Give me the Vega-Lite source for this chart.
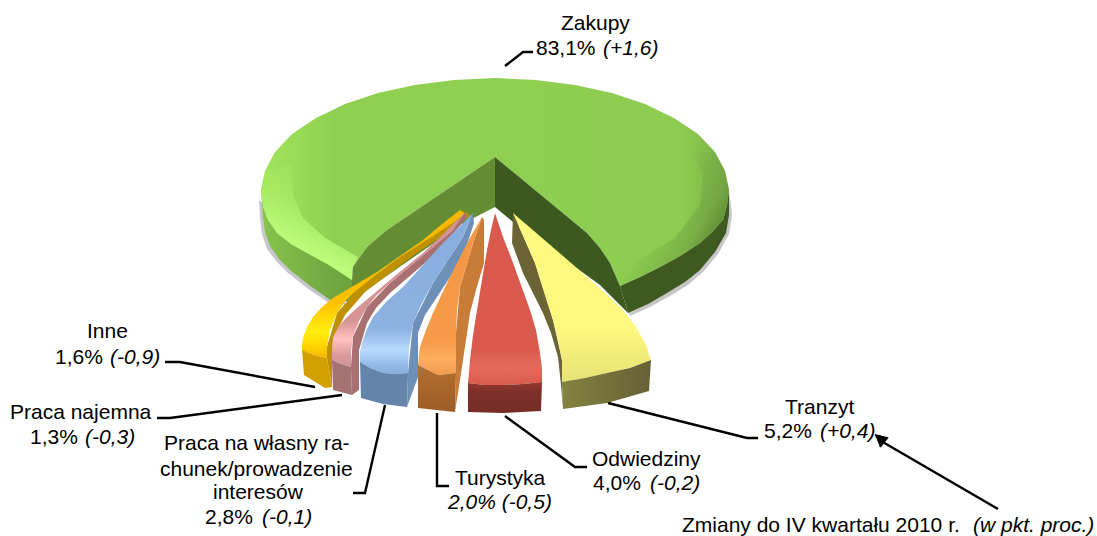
{
"$schema":"https://vega.github.io/schema/vega-lite/v6.json",
"width":1097,"height":536,"padding":0,"autosize":"none",
"background":"white",
"view":{"stroke":null},
"datasets":{
"outline":[
{"part":"shadowL","i":1,"x":259,"y":200},{"part":"shadowL","i":2,"x":260,"y":218},{"part":"shadowL","i":3,"x":262,"y":234},{"part":"shadowL","i":4,"x":267,"y":249},{"part":"shadowL","i":5,"x":277,"y":262},{"part":"shadowL","i":6,"x":288,"y":273},{"part":"shadowL","i":7,"x":307,"y":288},{"part":"shadowL","i":8,"x":329,"y":303},{"part":"shadowL","i":9,"x":345,"y":304},{"part":"shadowL","i":10,"x":345,"y":270},
{"part":"shadowR","i":1,"x":620,"y":286},{"part":"shadowR","i":2,"x":729,"y":190},{"part":"shadowR","i":3,"x":732,"y":215},{"part":"shadowR","i":4,"x":729,"y":234},{"part":"shadowR","i":5,"x":718,"y":254},{"part":"shadowR","i":6,"x":703,"y":272},{"part":"shadowR","i":7,"x":688,"y":285},{"part":"shadowR","i":8,"x":670,"y":296},{"part":"shadowR","i":9,"x":650,"y":307},{"part":"shadowR","i":10,"x":630,"y":316},
{"part":"wallL","i":1,"x":261,"y":190},{"part":"wallL","i":2,"x":263,"y":217},{"part":"wallL","i":3,"x":265,"y":232},{"part":"wallL","i":4,"x":270,"y":246},{"part":"wallL","i":5,"x":279,"y":259},{"part":"wallL","i":6,"x":290,"y":270},{"part":"wallL","i":7,"x":309,"y":285},{"part":"wallL","i":8,"x":330,"y":300},{"part":"wallL","i":9,"x":352,"y":302},{"part":"wallL","i":10,"x":352,"y":280},
{"part":"wallR","i":1,"x":620,"y":286},{"part":"wallR","i":2,"x":640,"y":277},{"part":"wallR","i":3,"x":660,"y":267},{"part":"wallR","i":4,"x":680,"y":256},{"part":"wallR","i":5,"x":700,"y":243},{"part":"wallR","i":6,"x":712,"y":232},{"part":"wallR","i":7,"x":723,"y":220},{"part":"wallR","i":8,"x":727,"y":205},{"part":"wallR","i":9,"x":729,"y":190},{"part":"wallR","i":10,"x":729,"y":215},{"part":"wallR","i":11,"x":726,"y":233},{"part":"wallR","i":12,"x":715,"y":252},{"part":"wallR","i":13,"x":700,"y":270},{"part":"wallR","i":14,"x":685,"y":282},{"part":"wallR","i":15,"x":667,"y":293},{"part":"wallR","i":16,"x":648,"y":304},{"part":"wallR","i":17,"x":628,"y":313},
{"part":"top","i":1,"x":495,"y":157},{"part":"top","i":2,"x":587,"y":233},{"part":"top","i":3,"x":600,"y":248},{"part":"top","i":4,"x":610,"y":263},{"part":"top","i":5,"x":620,"y":286},{"part":"top","i":6,"x":640,"y":277},{"part":"top","i":7,"x":660,"y":267},{"part":"top","i":8,"x":680,"y":256},{"part":"top","i":9,"x":700,"y":243},{"part":"top","i":10,"x":712,"y":232},{"part":"top","i":11,"x":723,"y":220},{"part":"top","i":12,"x":727,"y":205},{"part":"top","i":13,"x":729,"y":190},{"part":"top","i":14,"x":725,"y":171},{"part":"top","i":15,"x":715,"y":152},{"part":"top","i":16,"x":698,"y":134},{"part":"top","i":17,"x":674,"y":118},{"part":"top","i":18,"x":645,"y":104},{"part":"top","i":19,"x":612,"y":93},{"part":"top","i":20,"x":575,"y":85},{"part":"top","i":21,"x":536,"y":80},{"part":"top","i":22,"x":495,"y":78},{"part":"top","i":23,"x":454,"y":80},{"part":"top","i":24,"x":415,"y":85},{"part":"top","i":25,"x":378,"y":93},{"part":"top","i":26,"x":345,"y":104},{"part":"top","i":27,"x":316,"y":118},{"part":"top","i":28,"x":292,"y":134},{"part":"top","i":29,"x":275,"y":152},{"part":"top","i":30,"x":265,"y":171},{"part":"top","i":31,"x":261,"y":190},{"part":"top","i":32,"x":263,"y":207},{"part":"top","i":33,"x":268,"y":220},{"part":"top","i":34,"x":277,"y":233},{"part":"top","i":35,"x":291,"y":244},{"part":"top","i":36,"x":307,"y":253},{"part":"top","i":37,"x":329,"y":265},{"part":"top","i":38,"x":352,"y":280},{"part":"top","i":39,"x":353,"y":267},{"part":"top","i":40,"x":367,"y":247},{"part":"top","i":41,"x":387,"y":230},
{"part":"glow","i":1,"x":265,"y":171},{"part":"glow","i":2,"x":261,"y":190},{"part":"glow","i":3,"x":263,"y":207},{"part":"glow","i":4,"x":268,"y":220},{"part":"glow","i":5,"x":277,"y":233},{"part":"glow","i":6,"x":291,"y":244},{"part":"glow","i":7,"x":307,"y":253},{"part":"glow","i":8,"x":329,"y":265},{"part":"glow","i":9,"x":352,"y":280},{"part":"glow","i":10,"x":353,"y":267},{"part":"glow","i":11,"x":358,"y":257},{"part":"glow","i":12,"x":325,"y":238},{"part":"glow","i":13,"x":303,"y":218},{"part":"glow","i":14,"x":293,"y":195},{"part":"glow","i":15,"x":292,"y":165},
{"part":"shade","i":1,"x":729,"y":190},{"part":"shade","i":2,"x":727,"y":205},{"part":"shade","i":3,"x":723,"y":220},{"part":"shade","i":4,"x":712,"y":232},{"part":"shade","i":5,"x":700,"y":243},{"part":"shade","i":6,"x":680,"y":256},{"part":"shade","i":7,"x":660,"y":267},{"part":"shade","i":8,"x":640,"y":277},{"part":"shade","i":9,"x":620,"y":286},{"part":"shade","i":10,"x":635,"y":262},{"part":"shade","i":11,"x":675,"y":238},{"part":"shade","i":12,"x":700,"y":205},{"part":"shade","i":13,"x":703,"y":175},{"part":"shade","i":14,"x":690,"y":150},{"part":"shade","i":15,"x":715,"y":152},{"part":"shade","i":16,"x":725,"y":171},
{"part":"wedgeL","i":1,"x":495,"y":157},{"part":"wedgeL","i":2,"x":495,"y":207},{"part":"wedgeL","i":3,"x":460,"y":225},{"part":"wedgeL","i":4,"x":352,"y":300},{"part":"wedgeL","i":5,"x":352,"y":280},{"part":"wedgeL","i":6,"x":353,"y":267},{"part":"wedgeL","i":7,"x":367,"y":247},{"part":"wedgeL","i":8,"x":387,"y":230},
{"part":"wedgeR","i":1,"x":495,"y":157},{"part":"wedgeR","i":2,"x":587,"y":233},{"part":"wedgeR","i":3,"x":600,"y":248},{"part":"wedgeR","i":4,"x":610,"y":263},{"part":"wedgeR","i":5,"x":620,"y":286},{"part":"wedgeR","i":6,"x":628,"y":313},{"part":"wedgeR","i":7,"x":600,"y":285},{"part":"wedgeR","i":8,"x":513,"y":222},{"part":"wedgeR","i":9,"x":495,"y":207},
{"part":"goldWall","i":1,"x":466,"y":212},{"part":"goldWall","i":2,"x":470,"y":216},{"part":"goldWall","i":3,"x":410,"y":258},{"part":"goldWall","i":4,"x":365,"y":292},{"part":"goldWall","i":5,"x":345,"y":315},{"part":"goldWall","i":6,"x":335,"y":335},{"part":"goldWall","i":7,"x":332,"y":350},{"part":"goldWall","i":8,"x":332,"y":387},{"part":"goldWall","i":9,"x":327,"y":358},{"part":"goldWall","i":10,"x":327,"y":347},{"part":"goldWall","i":11,"x":337,"y":313},{"part":"goldWall","i":12,"x":357,"y":290},{"part":"goldWall","i":13,"x":400,"y":257},
{"part":"goldTop","i":1,"x":460,"y":210},{"part":"goldTop","i":2,"x":466,"y":214},{"part":"goldTop","i":3,"x":433,"y":236},{"part":"goldTop","i":4,"x":400,"y":257},{"part":"goldTop","i":5,"x":376,"y":275},{"part":"goldTop","i":6,"x":357,"y":290},{"part":"goldTop","i":7,"x":345,"y":301},{"part":"goldTop","i":8,"x":337,"y":313},{"part":"goldTop","i":9,"x":330,"y":330},{"part":"goldTop","i":10,"x":327,"y":347},{"part":"goldTop","i":11,"x":327,"y":358},{"part":"goldTop","i":12,"x":314,"y":355},{"part":"goldTop","i":13,"x":302,"y":350},{"part":"goldTop","i":14,"x":302,"y":344},{"part":"goldTop","i":15,"x":303,"y":338},{"part":"goldTop","i":16,"x":307,"y":327},{"part":"goldTop","i":17,"x":313,"y":317},{"part":"goldTop","i":18,"x":322,"y":307},{"part":"goldTop","i":19,"x":333,"y":298},{"part":"goldTop","i":20,"x":355,"y":285},{"part":"goldTop","i":21,"x":377,"y":272},{"part":"goldTop","i":22,"x":400,"y":256},{"part":"goldTop","i":23,"x":423,"y":240},{"part":"goldTop","i":24,"x":442,"y":224},
{"part":"goldFront","i":1,"x":302,"y":350},{"part":"goldFront","i":2,"x":314,"y":355},{"part":"goldFront","i":3,"x":327,"y":358},{"part":"goldFront","i":4,"x":332,"y":387},{"part":"goldFront","i":5,"x":325,"y":388},{"part":"goldFront","i":6,"x":304,"y":375},
{"part":"pinkWall","i":1,"x":465,"y":212},{"part":"pinkWall","i":2,"x":467,"y":217},{"part":"pinkWall","i":3,"x":440,"y":250},{"part":"pinkWall","i":4,"x":390,"y":293},{"part":"pinkWall","i":5,"x":376,"y":308},{"part":"pinkWall","i":6,"x":367,"y":323},{"part":"pinkWall","i":7,"x":359,"y":350},{"part":"pinkWall","i":8,"x":359,"y":390},{"part":"pinkWall","i":9,"x":352,"y":395},{"part":"pinkWall","i":10,"x":351,"y":367},{"part":"pinkWall","i":11,"x":353,"y":337},{"part":"pinkWall","i":12,"x":367,"y":307},{"part":"pinkWall","i":13,"x":390,"y":283},{"part":"pinkWall","i":14,"x":453,"y":230},
{"part":"pinkTop","i":1,"x":465,"y":212},{"part":"pinkTop","i":2,"x":453,"y":230},{"part":"pinkTop","i":3,"x":420,"y":258},{"part":"pinkTop","i":4,"x":390,"y":283},{"part":"pinkTop","i":5,"x":376,"y":296},{"part":"pinkTop","i":6,"x":367,"y":307},{"part":"pinkTop","i":7,"x":359,"y":321},{"part":"pinkTop","i":8,"x":353,"y":337},{"part":"pinkTop","i":9,"x":351,"y":352},{"part":"pinkTop","i":10,"x":351,"y":367},{"part":"pinkTop","i":11,"x":341,"y":364},{"part":"pinkTop","i":12,"x":332,"y":360},{"part":"pinkTop","i":13,"x":332,"y":348},{"part":"pinkTop","i":14,"x":333,"y":337},{"part":"pinkTop","i":15,"x":339,"y":326},{"part":"pinkTop","i":16,"x":347,"y":317},{"part":"pinkTop","i":17,"x":358,"y":307},{"part":"pinkTop","i":18,"x":370,"y":297},{"part":"pinkTop","i":19,"x":396,"y":275},{"part":"pinkTop","i":20,"x":423,"y":253},{"part":"pinkTop","i":21,"x":445,"y":232},
{"part":"pinkFront","i":1,"x":332,"y":360},{"part":"pinkFront","i":2,"x":341,"y":364},{"part":"pinkFront","i":3,"x":351,"y":367},{"part":"pinkFront","i":4,"x":352,"y":395},{"part":"pinkFront","i":5,"x":333,"y":390},
{"part":"blueWall","i":1,"x":473,"y":213},{"part":"blueWall","i":2,"x":474,"y":223},{"part":"blueWall","i":3,"x":463,"y":257},{"part":"blueWall","i":4,"x":437,"y":297},{"part":"blueWall","i":5,"x":425,"y":315},{"part":"blueWall","i":6,"x":418,"y":333},{"part":"blueWall","i":7,"x":418,"y":377},{"part":"blueWall","i":8,"x":407,"y":407},{"part":"blueWall","i":9,"x":408,"y":373},{"part":"blueWall","i":10,"x":413,"y":323},{"part":"blueWall","i":11,"x":433,"y":283},{"part":"blueWall","i":12,"x":463,"y":237},
{"part":"blueTop","i":1,"x":473,"y":213},{"part":"blueTop","i":2,"x":463,"y":237},{"part":"blueTop","i":3,"x":448,"y":260},{"part":"blueTop","i":4,"x":433,"y":283},{"part":"blueTop","i":5,"x":422,"y":303},{"part":"blueTop","i":6,"x":413,"y":323},{"part":"blueTop","i":7,"x":409,"y":348},{"part":"blueTop","i":8,"x":408,"y":373},{"part":"blueTop","i":9,"x":396,"y":374},{"part":"blueTop","i":10,"x":383,"y":373},{"part":"blueTop","i":11,"x":370,"y":368},{"part":"blueTop","i":12,"x":360,"y":362},{"part":"blueTop","i":13,"x":360,"y":352},{"part":"blueTop","i":14,"x":362,"y":343},{"part":"blueTop","i":15,"x":367,"y":329},{"part":"blueTop","i":16,"x":373,"y":317},{"part":"blueTop","i":17,"x":386,"y":302},{"part":"blueTop","i":18,"x":403,"y":287},{"part":"blueTop","i":19,"x":423,"y":265},{"part":"blueTop","i":20,"x":443,"y":243},{"part":"blueTop","i":21,"x":458,"y":228},
{"part":"blueFront","i":1,"x":360,"y":362},{"part":"blueFront","i":2,"x":370,"y":368},{"part":"blueFront","i":3,"x":383,"y":373},{"part":"blueFront","i":4,"x":396,"y":374},{"part":"blueFront","i":5,"x":408,"y":373},{"part":"blueFront","i":6,"x":407,"y":407},{"part":"blueFront","i":7,"x":383,"y":404},{"part":"blueFront","i":8,"x":361,"y":398},
{"part":"orangeWall","i":1,"x":482,"y":217},{"part":"orangeWall","i":2,"x":484,"y":220},{"part":"orangeWall","i":3,"x":484,"y":263},{"part":"orangeWall","i":4,"x":476,"y":290},{"part":"orangeWall","i":5,"x":470,"y":313},{"part":"orangeWall","i":6,"x":462,"y":367},{"part":"orangeWall","i":7,"x":455,"y":412},{"part":"orangeWall","i":8,"x":456,"y":373},{"part":"orangeWall","i":9,"x":456,"y":333},{"part":"orangeWall","i":10,"x":460,"y":287},{"part":"orangeWall","i":11,"x":473,"y":243},
{"part":"orangeTop","i":1,"x":482,"y":217},{"part":"orangeTop","i":2,"x":473,"y":243},{"part":"orangeTop","i":3,"x":460,"y":287},{"part":"orangeTop","i":4,"x":457,"y":310},{"part":"orangeTop","i":5,"x":456,"y":333},{"part":"orangeTop","i":6,"x":456,"y":373},{"part":"orangeTop","i":7,"x":438,"y":375},{"part":"orangeTop","i":8,"x":418,"y":365},{"part":"orangeTop","i":9,"x":419,"y":355},{"part":"orangeTop","i":10,"x":420,"y":347},{"part":"orangeTop","i":11,"x":426,"y":330},{"part":"orangeTop","i":12,"x":433,"y":313},{"part":"orangeTop","i":13,"x":446,"y":285},{"part":"orangeTop","i":14,"x":460,"y":257},{"part":"orangeTop","i":15,"x":471,"y":236},
{"part":"orangeFront","i":1,"x":418,"y":365},{"part":"orangeFront","i":2,"x":438,"y":375},{"part":"orangeFront","i":3,"x":456,"y":373},{"part":"orangeFront","i":4,"x":455,"y":412},{"part":"orangeFront","i":5,"x":418,"y":408},
{"part":"redTop","i":1,"x":495,"y":213},{"part":"redTop","i":2,"x":503,"y":237},{"part":"redTop","i":3,"x":512,"y":260},{"part":"redTop","i":4,"x":530,"y":310},{"part":"redTop","i":5,"x":536,"y":330},{"part":"redTop","i":6,"x":540,"y":353},{"part":"redTop","i":7,"x":542,"y":368},{"part":"redTop","i":8,"x":542,"y":382},{"part":"redTop","i":9,"x":523,"y":384},{"part":"redTop","i":10,"x":503,"y":385},{"part":"redTop","i":11,"x":485,"y":385},{"part":"redTop","i":12,"x":468,"y":383},{"part":"redTop","i":13,"x":469,"y":372},{"part":"redTop","i":14,"x":470,"y":360},{"part":"redTop","i":15,"x":473,"y":335},{"part":"redTop","i":16,"x":477,"y":310},{"part":"redTop","i":17,"x":482,"y":280},{"part":"redTop","i":18,"x":487,"y":250},{"part":"redTop","i":19,"x":491,"y":230},
{"part":"redFront","i":1,"x":468,"y":383},{"part":"redFront","i":2,"x":485,"y":385},{"part":"redFront","i":3,"x":503,"y":385},{"part":"redFront","i":4,"x":523,"y":384},{"part":"redFront","i":5,"x":542,"y":382},{"part":"redFront","i":6,"x":541,"y":411},{"part":"redFront","i":7,"x":503,"y":413},{"part":"redFront","i":8,"x":468,"y":412},
{"part":"yellowWall","i":1,"x":513,"y":213},{"part":"yellowWall","i":2,"x":512,"y":243},{"part":"yellowWall","i":3,"x":523,"y":273},{"part":"yellowWall","i":4,"x":533,"y":293},{"part":"yellowWall","i":5,"x":543,"y":313},{"part":"yellowWall","i":6,"x":551,"y":333},{"part":"yellowWall","i":7,"x":558,"y":357},{"part":"yellowWall","i":8,"x":561,"y":385},{"part":"yellowWall","i":9,"x":563,"y":409},{"part":"yellowWall","i":10,"x":562,"y":382},{"part":"yellowWall","i":11,"x":562,"y":360},{"part":"yellowWall","i":12,"x":553,"y":320},{"part":"yellowWall","i":13,"x":535,"y":263},
{"part":"yellowTop","i":1,"x":513,"y":213},{"part":"yellowTop","i":2,"x":570,"y":262},{"part":"yellowTop","i":3,"x":605,"y":293},{"part":"yellowTop","i":4,"x":623,"y":310},{"part":"yellowTop","i":5,"x":636,"y":327},{"part":"yellowTop","i":6,"x":646,"y":345},{"part":"yellowTop","i":7,"x":651,"y":360},{"part":"yellowTop","i":8,"x":630,"y":368},{"part":"yellowTop","i":9,"x":607,"y":373},{"part":"yellowTop","i":10,"x":585,"y":378},{"part":"yellowTop","i":11,"x":562,"y":382},{"part":"yellowTop","i":12,"x":562,"y":360},{"part":"yellowTop","i":13,"x":558,"y":340},{"part":"yellowTop","i":14,"x":553,"y":320},{"part":"yellowTop","i":15,"x":545,"y":295},{"part":"yellowTop","i":16,"x":535,"y":263},{"part":"yellowTop","i":17,"x":524,"y":238},
{"part":"yellowFront","i":1,"x":562,"y":382},{"part":"yellowFront","i":2,"x":585,"y":378},{"part":"yellowFront","i":3,"x":607,"y":373},{"part":"yellowFront","i":4,"x":630,"y":368},{"part":"yellowFront","i":5,"x":651,"y":360},{"part":"yellowFront","i":6,"x":649,"y":391},{"part":"yellowFront","i":7,"x":607,"y":403},{"part":"yellowFront","i":8,"x":563,"y":409},
{"part":"head","i":1,"x":875,"y":435},{"part":"head","i":2,"x":887,"y":438},{"part":"head","i":3,"x":880,"y":447}
],
"leaders":[
{"name":"Zakupy","i":1,"x":505,"y":66},{"name":"Zakupy","i":2,"x":523,"y":52},{"name":"Zakupy","i":3,"x":533,"y":52},
{"name":"Inne","i":1,"x":165,"y":362},{"name":"Inne","i":2,"x":180,"y":362},{"name":"Inne","i":3,"x":315,"y":387},
{"name":"Praca najemna","i":1,"x":157,"y":418},{"name":"Praca najemna","i":2,"x":170,"y":418},{"name":"Praca najemna","i":3,"x":342,"y":395},
{"name":"Praca wlasna","i":1,"x":353,"y":493},{"name":"Praca wlasna","i":2,"x":365,"y":493},{"name":"Praca wlasna","i":3,"x":385,"y":405},
{"name":"Turystyka","i":1,"x":437,"y":413},{"name":"Turystyka","i":2,"x":437,"y":486},{"name":"Turystyka","i":3,"x":449,"y":486},
{"name":"Odwiedziny","i":1,"x":505,"y":416},{"name":"Odwiedziny","i":2,"x":575,"y":467},{"name":"Odwiedziny","i":3,"x":587,"y":467},
{"name":"Tranzyt","i":1,"x":608,"y":403},{"name":"Tranzyt","i":2,"x":747,"y":438},{"name":"Tranzyt","i":3,"x":758,"y":438},
{"name":"Zmiany","i":1,"x":998,"y":509},{"name":"Zmiany","i":2,"x":881,"y":441}
],
"labels":[
{"t":"Zakupy","x":561,"y":24,"s":"normal"},{"t":"83,1%","x":536,"y":49,"s":"normal"},{"t":"(+1,6)","x":603,"y":49,"s":"italic"},
{"t":"Inne","x":87,"y":332,"s":"normal"},{"t":"1,6%","x":55,"y":358,"s":"normal"},{"t":"(-0,9)","x":110,"y":358,"s":"italic"},
{"t":"Praca najemna","x":10,"y":413,"s":"normal"},{"t":"1,3%","x":30,"y":438,"s":"normal"},{"t":"(-0,3)","x":85,"y":438,"s":"italic"},
{"t":"Praca na własny ra-","x":164,"y":444,"s":"normal"},{"t":"chunek/prowadzenie","x":160,"y":470,"s":"normal"},{"t":"interesów","x":213,"y":493,"s":"normal"},{"t":"2,8%","x":205,"y":518,"s":"normal"},{"t":"(-0,1)","x":262,"y":518,"s":"italic"},
{"t":"Turystyka","x":455,"y":479,"s":"normal"},{"t":"2,0% (-0,5)","x":448,"y":503,"s":"italic"},
{"t":"Odwiedziny","x":592,"y":460,"s":"normal"},{"t":"4,0%","x":593,"y":484,"s":"normal"},{"t":"(-0,2)","x":650,"y":484,"s":"italic"},
{"t":"Tranzyt","x":785,"y":408,"s":"normal"},{"t":"5,2%","x":764,"y":432,"s":"normal"},{"t":"(+0,4)","x":820,"y":432,"s":"italic"},
{"t":"Zmiany do IV kwartału 2010 r.","x":682,"y":526,"s":"normal"},{"t":"(w pkt. proc.)","x":973,"y":526,"s":"italic"}
]
},
"data":{"name":"outline"},
"encoding":{
"x":{"field":"x","type":"quantitative","axis":null,"scale":{"domain":[0,1097],"nice":false,"zero":false}},
"y":{"field":"y","type":"quantitative","axis":null,"scale":{"domain":[536,0],"nice":false,"zero":false}},
"order":{"field":"i","type":"quantitative"}
},
"layer":[
{"transform":[{"filter":"datum.part=='shadowL'"}],"mark":{"type":"line","stroke":"transparent","fill":"#c6c6cc"}},
{"transform":[{"filter":"datum.part=='shadowR'"}],"mark":{"type":"line","stroke":"transparent","fill":"#c6c6c6"}},
{"transform":[{"filter":"datum.part=='wallL'"}],"mark":{"type":"line","stroke":"transparent","fill":{"gradient":"linear","x1":0,"y1":0,"x2":1,"y2":0,"stops":[{"offset":0,"color":"#86c44c"},{"offset":0.6,"color":"#78ad44"},{"offset":1,"color":"#6ba23c"}]}}},
{"transform":[{"filter":"datum.part=='wallR'"}],"mark":{"type":"line","stroke":"transparent","fill":"#3f5a20"}},
{"transform":[{"filter":"datum.part=='top'"}],"mark":{"type":"line","stroke":"transparent","fill":{"gradient":"linear","x1":0,"y1":0,"x2":1,"y2":0,"stops":[{"offset":0,"color":"#a2e45a"},{"offset":0.16,"color":"#8fd052"},{"offset":0.9,"color":"#8dcc50"},{"offset":1,"color":"#7aaf46"}]}}},
{"transform":[{"filter":"datum.part=='glow'"}],"mark":{"type":"line","stroke":"transparent","fill":{"gradient":"linear","x1":0.75,"y1":0.05,"x2":0.4,"y2":0.85,"stops":[{"offset":0,"color":"rgba(165,232,95,0)"},{"offset":0.45,"color":"rgba(168,236,98,0.8)"},{"offset":0.85,"color":"#bcfb7a"},{"offset":1,"color":"#c2ff80"}]}}},
{"transform":[{"filter":"datum.part=='shade'"}],"mark":{"type":"line","stroke":"transparent","fill":{"gradient":"linear","x1":0.45,"y1":0.3,"x2":0.9,"y2":0.62,"stops":[{"offset":0,"color":"rgba(110,158,62,0)"},{"offset":0.7,"color":"rgba(110,158,62,0.6)"},{"offset":1,"color":"#5e8a35"}]}}},
{"transform":[{"filter":"datum.part=='wedgeL'"}],"mark":{"type":"line","stroke":"transparent","fill":"#648c32"}},
{"transform":[{"filter":"datum.part=='wedgeR'"}],"mark":{"type":"line","stroke":"transparent","fill":"#3c5a1f"}},
{"transform":[{"filter":"datum.part=='goldWall'"}],"mark":{"type":"line","stroke":"transparent","fill":"#bf9000"}},
{"transform":[{"filter":"datum.part=='goldTop'"}],"mark":{"type":"line","stroke":"transparent","fill":{"gradient":"linear","x1":0,"y1":0,"x2":0,"y2":1,"stops":[{"offset":0,"color":"#f5b800"},{"offset":0.62,"color":"#ffc000"},{"offset":0.82,"color":"#ffee10"},{"offset":0.92,"color":"#ffd400"},{"offset":1,"color":"#efb800"}]}}},
{"transform":[{"filter":"datum.part=='goldFront'"}],"mark":{"type":"line","stroke":"transparent","fill":"#d2a000"}},
{"transform":[{"filter":"datum.part=='pinkWall'"}],"mark":{"type":"line","stroke":"transparent","fill":"#a87070"}},
{"transform":[{"filter":"datum.part=='pinkTop'"}],"mark":{"type":"line","stroke":"transparent","fill":{"gradient":"linear","x1":0,"y1":0,"x2":0,"y2":1,"stops":[{"offset":0,"color":"#d39090"},{"offset":0.7,"color":"#d69494"},{"offset":0.82,"color":"#ffc0c0"},{"offset":0.93,"color":"#d99a9a"},{"offset":1,"color":"#d49494"}]}}},
{"transform":[{"filter":"datum.part=='pinkFront'"}],"mark":{"type":"line","stroke":"transparent","fill":"#a57272"}},
{"transform":[{"filter":"datum.part=='blueWall'"}],"mark":{"type":"line","stroke":"transparent","fill":"#6e90b8"}},
{"transform":[{"filter":"datum.part=='blueTop'"}],"mark":{"type":"line","stroke":"transparent","fill":{"gradient":"linear","x1":0,"y1":0,"x2":0,"y2":1,"stops":[{"offset":0,"color":"#88aee0"},{"offset":0.72,"color":"#8cb2e2"},{"offset":0.85,"color":"#b8daff"},{"offset":0.95,"color":"#90b8e8"},{"offset":1,"color":"#8aaedc"}]}}},
{"transform":[{"filter":"datum.part=='blueFront'"}],"mark":{"type":"line","stroke":"transparent","fill":"#6584ac"}},
{"transform":[{"filter":"datum.part=='orangeWall'"}],"mark":{"type":"line","stroke":"transparent","fill":"#c87c38"}},
{"transform":[{"filter":"datum.part=='orangeTop'"}],"mark":{"type":"line","stroke":"transparent","fill":{"gradient":"linear","x1":0,"y1":0,"x2":0,"y2":1,"stops":[{"offset":0,"color":"#f49745"},{"offset":0.78,"color":"#f59a48"},{"offset":0.9,"color":"#ffae60"},{"offset":1,"color":"#f09a4c"}]}}},
{"transform":[{"filter":"datum.part=='orangeFront'"}],"mark":{"type":"line","stroke":"transparent","fill":{"gradient":"linear","x1":0,"y1":0,"x2":0,"y2":1,"stops":[{"offset":0,"color":"#b5702f"},{"offset":1,"color":"#9c5c26"}]}}},
{"transform":[{"filter":"datum.part=='redTop'"}],"mark":{"type":"line","stroke":"transparent","fill":{"gradient":"linear","x1":0,"y1":0,"x2":0,"y2":1,"stops":[{"offset":0,"color":"#d9594c"},{"offset":0.8,"color":"#da5b4e"},{"offset":0.9,"color":"#e66a5c"},{"offset":1,"color":"#d85a4d"}]}}},
{"transform":[{"filter":"datum.part=='redFront'"}],"mark":{"type":"line","stroke":"transparent","fill":{"gradient":"linear","x1":0,"y1":0,"x2":0,"y2":1,"stops":[{"offset":0,"color":"#94392f"},{"offset":0.35,"color":"#7c2e29"},{"offset":1,"color":"#772d27"}]}}},
{"transform":[{"filter":"datum.part=='yellowWall'"}],"mark":{"type":"line","stroke":"transparent","fill":"#6b6535"}},
{"transform":[{"filter":"datum.part=='yellowTop'"}],"mark":{"type":"line","stroke":"transparent","fill":{"gradient":"linear","x1":0,"y1":0,"x2":0,"y2":1,"stops":[{"offset":0,"color":"#fffa80"},{"offset":0.68,"color":"#fff77e"},{"offset":1,"color":"#e6e274"}]}}},
{"transform":[{"filter":"datum.part=='yellowFront'"}],"mark":{"type":"line","stroke":"transparent","fill":{"gradient":"linear","x1":0,"y1":0,"x2":1,"y2":0,"stops":[{"offset":0,"color":"#83833f"},{"offset":1,"color":"#666137"}]}}},
{"data":{"name":"leaders"},"mark":{"type":"line","color":"black","strokeWidth":2.4},"encoding":{"detail":{"field":"name"}}},
{"transform":[{"filter":"datum.part=='head'"}],"mark":{"type":"line","stroke":"black","fill":"black"}},
{"data":{"name":"labels"},"transform":[{"filter":"datum.s=='normal'"}],"mark":{"type":"text","align":"left","baseline":"middle","font":"Liberation Sans","fontSize":21,"color":"black"},"encoding":{"text":{"field":"t"},"order":null}},
{"data":{"name":"labels"},"transform":[{"filter":"datum.s=='italic'"}],"mark":{"type":"text","align":"left","baseline":"middle","font":"Liberation Sans","fontStyle":"italic","fontSize":21,"color":"black"},"encoding":{"text":{"field":"t"},"order":null}}
]
}
